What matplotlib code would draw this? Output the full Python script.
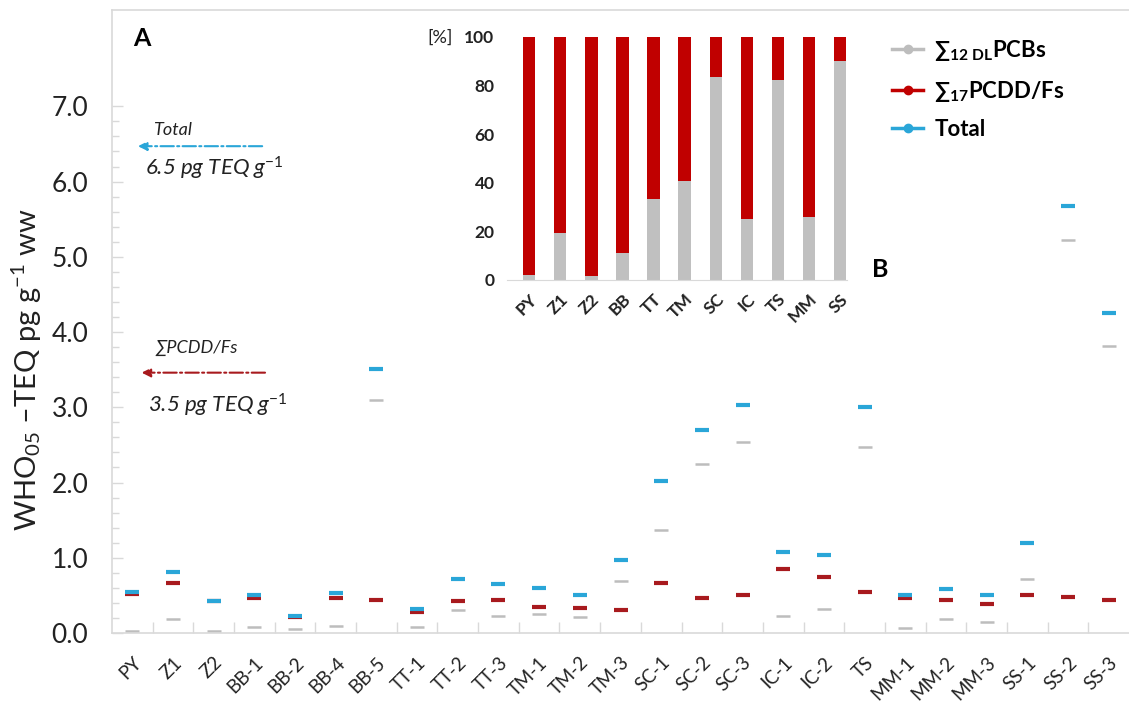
import matplotlib
matplotlib.use("Agg")
from matplotlib import pyplot as plt
from matplotlib.lines import Line2D
from matplotlib.ticker import FixedLocator

plt.rcParams['font.family'] = ['Lato', 'DejaVu Sans']
plt.rcParams['mathtext.fontset'] = 'custom'
plt.rcParams['mathtext.rm'] = 'Lato'
plt.rcParams['mathtext.it'] = 'Lato:italic'
plt.rcParams['mathtext.bf'] = 'Lato:bold'

# main panel A: WHO05-TEQ per sample (pg/g ww)
samples = ['PY', 'Z1', 'Z2', 'BB-1', 'BB-2', 'BB-4', 'BB-5', 'TT-1', 'TT-2', 'TT-3',
           'TM-1', 'TM-2', 'TM-3', 'SC-1', 'SC-2', 'SC-3', 'IC-1', 'IC-2', 'TS',
           'MM-1', 'MM-2', 'MM-3', 'SS-1', 'SS-2', 'SS-3']
pcbs = [0.03, 0.18, 0.03, 0.08, 0.05, 0.09, 3.10, 0.08, 0.31, 0.23,
        0.25, 0.21, 0.69, 1.37, 2.25, 2.54, 0.23, 0.32, 2.47,
        0.06, 0.18, 0.15, 0.72, 5.22, 3.82]
pcdd = [0.52, 0.66, 0.42, 0.46, 0.21, 0.47, 0.44, 0.28, 0.43, 0.44,
        0.35, 0.33, 0.30, 0.66, 0.47, 0.51, 0.85, 0.75, 0.54,
        0.46, 0.44, 0.38, 0.51, 0.48, 0.44]
total = [0.54, 0.81, 0.43, 0.51, 0.23, 0.53, 3.51, 0.32, 0.72, 0.65,
         0.60, 0.50, 0.97, 2.02, 2.70, 3.03, 1.07, 1.04, 3.00,
         0.50, 0.58, 0.51, 1.20, 5.67, 4.25]

# inset B: share of PCBs in total TEQ [%]
groups = ['PY', 'Z1', 'Z2', 'BB', 'TT', 'TM', 'SC', 'IC', 'TS', 'MM', 'SS']
pcb_pct = [2.1, 19.2, 1.6, 11.0, 33.2, 40.8, 83.4, 24.9, 82.4, 26.1, 90.1]
pcdd_pct = [100 - v for v in pcb_pct]

# guide values
total_ref = 6.47
pcdd_ref = 3.46

c_gray = '#bdbdbd'
c_red = '#a81a1e'
c_blue = '#2aa6d8'
c_axis = '#d9d9d9'
c_txt = '#222222'

W, H = 1129, 713
fig = plt.figure(figsize=(W / 100, H / 100), dpi=100)

ax = fig.add_axes([112 / W, 1 - 633 / H, 1 - 112 / W, (633 - 10) / H])
x = list(range(len(samples)))
ax.plot(x, pcbs, ls='none', marker='_', ms=10, mew=1.8, color=c_gray)
ax.plot(x, pcdd, ls='none', marker='_', ms=10.5, mew=3, color=c_red)
ax.plot(x, total, ls='none', marker='_', ms=10.5, mew=3, color=c_blue)

ax.set_xlim(-0.5, len(samples) - 0.5)
ax.set_ylim(0, 8.28)
ax.yaxis.set_major_locator(FixedLocator([i for i in range(8)]))
ax.yaxis.set_minor_locator(FixedLocator([i * 0.2 for i in range(36)]))
ax.set_yticklabels(['%.1f' % i for i in range(8)])
ax.tick_params(axis='y', which='major', direction='in', length=8, width=1,
               color=c_axis, labelsize=19, pad=17, labelcolor=c_txt)
ax.tick_params(axis='y', which='minor', direction='in', length=5, width=1, color=c_axis)

ax.set_xticks(x)
ax.set_xticklabels(samples, rotation=45, ha='right', rotation_mode='anchor',
                   fontsize=13.5, color=c_txt)
ax.xaxis.set_minor_locator(FixedLocator([i + 0.5 for i in range(len(samples) - 1)]))
ax.tick_params(axis='x', which='major', length=0, pad=15)
ax.tick_params(axis='x', which='minor', direction='in', length=8, width=1, color=c_axis)
for side in ['left', 'bottom', 'top']:
    ax.spines[side].set_color(c_axis)
    ax.spines[side].set_linewidth(1.2)
ax.spines['right'].set_visible(False)

# guide arrows
ax.annotate('', xy=(0.07, total_ref), xytext=(3.26, total_ref),
            arrowprops=dict(arrowstyle='-|>', color=c_blue, lw=1.5, ls='-.',
                            mutation_scale=13))
ax.annotate('', xy=(0.16, pcdd_ref), xytext=(3.33, pcdd_ref),
            arrowprops=dict(arrowstyle='-|>', color=c_red, lw=1.5, ls='-.',
                            mutation_scale=13))


def ft(px, py, s, **kw):
    fig.text(px / W, 1 - py / H, s, **kw)


ft(153, 130, 'Total', fontsize=13, style='italic', va='center', color=c_txt)
ft(145, 168, '6.5 pg TEQ g$^{\\mathit{-1}}$', fontsize=16, style='italic', va='center', color=c_txt)
ft(155, 348, '∑PCDD/Fs', fontsize=13, style='italic', va='center', color=c_txt)
ft(148, 405, '3.5 pg TEQ g$^{\\mathit{-1}}$', fontsize=16, style='italic', va='center', color=c_txt)
ft(133, 38, 'A', fontsize=18, fontweight='bold', va='center')
ft(872, 270, 'B', fontsize=18, fontweight='bold', va='center')
ft(27, 370, 'WHO$_{05}$ \u2013TEQ pg g$^{-1}$ ww', fontsize=21, rotation=90,
   ha='center', va='center', color=c_txt)

# legend
handles = [Line2D([], [], color=c_gray, lw=2.5, marker='o', ms=6),
           Line2D([], [], color='#c00000', lw=2.5, marker='o', ms=6),
           Line2D([], [], color=c_blue, lw=2.5, marker='o', ms=6)]
labels = ['∑$_{\\mathbf{12\\ DL}}$PCBs', '∑$_{\\mathbf{17}}$PCDD/Fs', 'Total']
fig.legend(handles, labels, loc='upper left', bbox_to_anchor=(872 / W, 1 - 18 / H),
           frameon=False, handlelength=1.4, handletextpad=0.5, labelspacing=0.7,
           prop={'size': 16, 'weight': 'bold'})

# inset B
ins = fig.add_axes([507 / W, 1 - 280 / H, 340 / W, 243 / H])
gx = list(range(len(groups)))
ins.bar(gx, pcb_pct, width=0.4, color='#c0c0c0')
ins.bar(gx, pcdd_pct, width=0.4, bottom=pcb_pct, color='#c00000')
ins.set_xlim(-0.71, 10.22)
ins.set_ylim(0, 100)
ins.set_yticks([0, 20, 40, 60, 80, 100])
ins.set_xticks(gx)
ins.set_xticklabels(groups, rotation=45, ha='right', rotation_mode='anchor')
for lab in ins.get_xticklabels() + ins.get_yticklabels():
    lab.set_fontweight('bold')
    lab.set_fontsize(12.5)
    lab.set_color(c_txt)
ins.tick_params(length=0)
ins.tick_params(axis='y', pad=9)
ins.tick_params(axis='x', pad=8)
for side in ['left', 'top', 'right']:
    ins.spines[side].set_visible(False)
ins.spines['bottom'].set_color(c_axis)
ins.patch.set_alpha(0)
ft(427, 38, '[%]', fontsize=13, va='center', color=c_txt)

fig.savefig('out.png', dpi=100)
